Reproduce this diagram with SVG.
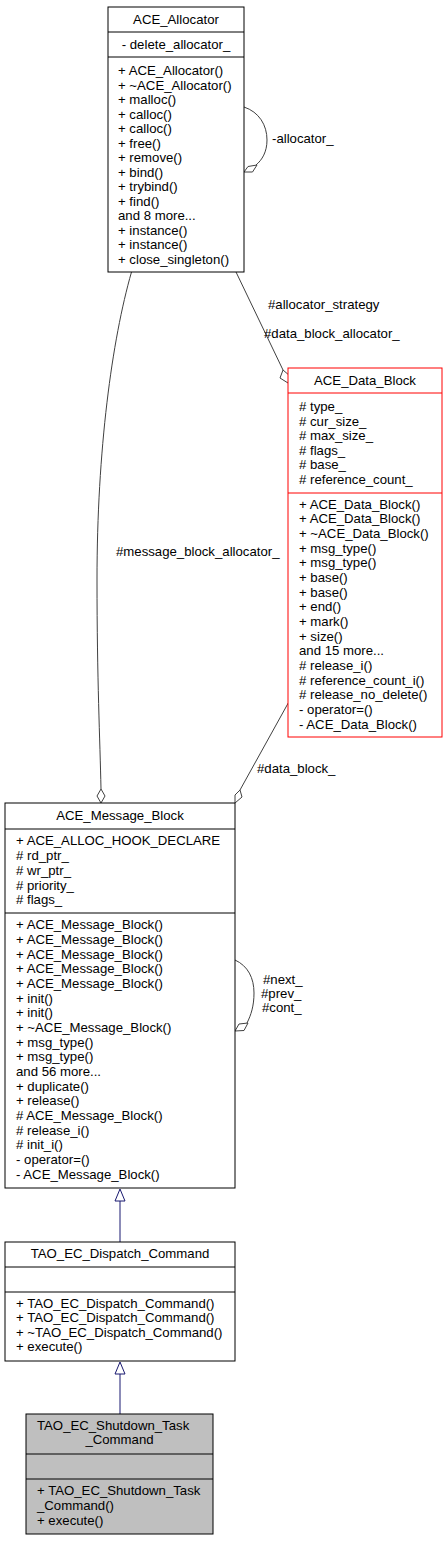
<svg xmlns="http://www.w3.org/2000/svg" width="447" height="1541" viewBox="0 0 447 1541">
<style>
text{font-family:"Liberation Sans",Arial,sans-serif;font-size:13.2px;fill:#000}
.c{text-anchor:middle}
.box{fill:#fff;stroke:#000;stroke-width:1}
.red{fill:#fff;stroke:#ff0000;stroke-width:1}
.grey{fill:#bfbfbf;stroke:#000;stroke-width:1}
.sep{stroke:#000;stroke-width:1}
.sepr{stroke:#ff0000;stroke-width:1}
.e{fill:none;stroke:#404040;stroke-width:1}
.d{fill:#fff;stroke:#404040;stroke-width:1}
.inh{fill:none;stroke:#191970;stroke-width:1}
.tri{fill:#fff;stroke:#191970;stroke-width:1}
</style>
<rect width="447" height="1541" fill="#fff"/>
<g id="connectors">
<path class="e" d="M244,107 C259,112 267,125 267,140 C267,152 262,160 256,165"/>
<polygon class="d" points="244,172 248,166.5 257,165 252.5,172"/>
<text x="272" y="143">-allocator_</text>
<path class="e" d="M236,272 L283,370"/>
<polygon class="d" points="283,370 280,378 288,383 290,376"/>
<text x="268" y="309">#allocator_strategy</text>
<text x="264" y="338">#data_block_allocator_</text>
<path class="e" d="M131.5,272 C112,340 97,450 97,580 C97,680 100,740 101,789"/>
<polygon class="d" points="101,789 97,796 101,803 105,796"/>
<text x="116" y="556">#message_block_allocator_</text>
<path class="e" d="M288.5,702.5 L240,790"/>
<polygon class="d" points="240,790 235,795 235,803 242,797"/>
<text x="257" y="773">#data_block_</text>
<path class="e" d="M235,960 C248,966 254,978 254,993 C254,1006 251,1015 247,1023"/>
<polygon class="d" points="235,1031 239,1024 248,1023 244,1030.5"/>
<text x="263" y="984">#next_</text>
<text x="261" y="998">#prev_</text>
<text x="262" y="1012">#cont_</text>
<path class="inh" d="M120,1201 L120,1242"/>
<polygon class="tri" points="120,1189 115,1201 125,1201"/>
<path class="inh" d="M120,1374 L120,1414"/>
<polygon class="tri" points="120,1362 115,1374 125,1374"/>
</g>
<g id="ACE_Allocator">
<rect class="box" x="108" y="7" width="136" height="265"/>
<line class="sep" x1="108" y1="32" x2="244" y2="32"/>
<line class="sep" x1="108" y1="57" x2="244" y2="57"/>
<text class="c" x="176" y="24">ACE_Allocator</text>
<text class="c" x="176" y="49">- delete_allocator_</text>
<text x="118" y="75">+ ACE_Allocator()</text>
<text x="118" y="89.5">+ ~ACE_Allocator()</text>
<text x="118" y="104">+ malloc()</text>
<text x="118" y="118.5">+ calloc()</text>
<text x="118" y="133">+ calloc()</text>
<text x="118" y="147.5">+ free()</text>
<text x="118" y="162">+ remove()</text>
<text x="118" y="176.5">+ bind()</text>
<text x="118" y="191">+ trybind()</text>
<text x="118" y="205.5">+ find()</text>
<text x="118" y="220">and 8 more...</text>
<text x="118" y="234.5">+ instance()</text>
<text x="118" y="249">+ instance()</text>
<text x="118" y="263.5">+ close_singleton()</text>
</g>
<g id="ACE_Data_Block">
<rect class="red" x="288" y="368" width="154" height="369"/>
<line class="sepr" x1="288" y1="393" x2="442" y2="393"/>
<line class="sepr" x1="288" y1="493" x2="442" y2="493"/>
<text class="c" x="365" y="384.5">ACE_Data_Block</text>
<text x="299" y="411"># type_</text>
<text x="299" y="425.5"># cur_size_</text>
<text x="299" y="440"># max_size_</text>
<text x="299" y="454.5"># flags_</text>
<text x="299" y="469"># base_</text>
<text x="299" y="483.5"># reference_count_</text>
<text x="299" y="508.6">+ ACE_Data_Block()</text>
<text x="299" y="523.3">+ ACE_Data_Block()</text>
<text x="299" y="537.9">+ ~ACE_Data_Block()</text>
<text x="299" y="552.6">+ msg_type()</text>
<text x="299" y="567.3">+ msg_type()</text>
<text x="299" y="581.9">+ base()</text>
<text x="299" y="596.6">+ base()</text>
<text x="299" y="611.3">+ end()</text>
<text x="299" y="625.9">+ mark()</text>
<text x="299" y="640.6">+ size()</text>
<text x="299" y="655.3">and 15 more...</text>
<text x="299" y="669.9"># release_i()</text>
<text x="299" y="684.6"># reference_count_i()</text>
<text x="299" y="699.3"># release_no_delete()</text>
<text x="299" y="713.9">- operator=()</text>
<text x="299" y="728.6">- ACE_Data_Block()</text>
</g>
<g id="ACE_Message_Block">
<rect class="box" x="5" y="803" width="230" height="385"/>
<line class="sep" x1="5" y1="829" x2="235" y2="829"/>
<line class="sep" x1="5" y1="913" x2="235" y2="913"/>
<text class="c" x="120" y="820.3">ACE_Message_Block</text>
<text x="16" y="845.3">+ ACE_ALLOC_HOOK_DECLARE</text>
<text x="16" y="860"># rd_ptr_</text>
<text x="16" y="874.8"># wr_ptr_</text>
<text x="16" y="889.5"># priority_</text>
<text x="16" y="904.3"># flags_</text>
<text x="16" y="929.3">+ ACE_Message_Block()</text>
<text x="16" y="944">+ ACE_Message_Block()</text>
<text x="16" y="958.6">+ ACE_Message_Block()</text>
<text x="16" y="973.3">+ ACE_Message_Block()</text>
<text x="16" y="987.9">+ ACE_Message_Block()</text>
<text x="16" y="1002.6">+ init()</text>
<text x="16" y="1017.3">+ init()</text>
<text x="16" y="1031.9">+ ~ACE_Message_Block()</text>
<text x="16" y="1046.6">+ msg_type()</text>
<text x="16" y="1061.2">+ msg_type()</text>
<text x="16" y="1075.9">and 56 more...</text>
<text x="16" y="1090.6">+ duplicate()</text>
<text x="16" y="1105.2">+ release()</text>
<text x="16" y="1119.9"># ACE_Message_Block()</text>
<text x="16" y="1134.6"># release_i()</text>
<text x="16" y="1149.2"># init_i()</text>
<text x="16" y="1163.9">- operator=()</text>
<text x="16" y="1178.6">- ACE_Message_Block()</text>
</g>
<g id="TAO_EC_Dispatch_Command">
<rect class="box" x="5" y="1242" width="230" height="119"/>
<line class="sep" x1="5" y1="1267" x2="235" y2="1267"/>
<line class="sep" x1="5" y1="1292" x2="235" y2="1292"/>
<text class="c" x="120" y="1257.6">TAO_EC_Dispatch_Command</text>
<text x="16" y="1307.6">+ TAO_EC_Dispatch_Command()</text>
<text x="16" y="1322.2">+ TAO_EC_Dispatch_Command()</text>
<text x="16" y="1336.8">+ ~TAO_EC_Dispatch_Command()</text>
<text x="16" y="1351.4">+ execute()</text>
</g>
<g id="TAO_EC_Shutdown_Task_Command">
<rect class="grey" x="26" y="1414" width="187" height="120"/>
<line class="sep" x1="26" y1="1454" x2="213" y2="1454"/>
<line class="sep" x1="26" y1="1479" x2="213" y2="1479"/>
<text x="37" y="1430">TAO_EC_Shutdown_Task</text>
<text class="c" x="119.5" y="1443.5">_Command</text>
<text x="37" y="1495.3">+ TAO_EC_Shutdown_Task</text>
<text x="37" y="1510">_Command()</text>
<text x="37" y="1524.6">+ execute()</text>
</g>
</svg>
